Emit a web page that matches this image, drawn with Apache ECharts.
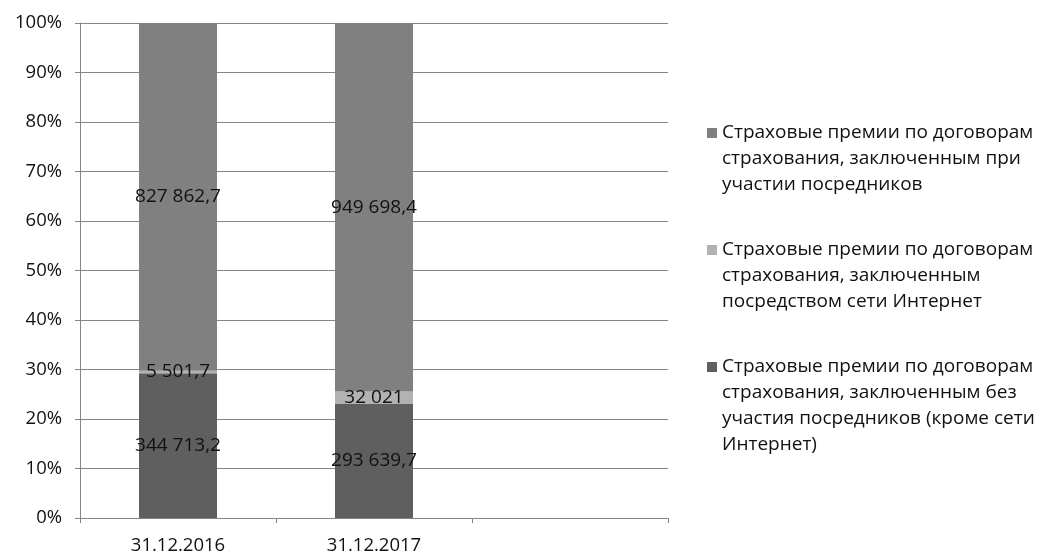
<!DOCTYPE html>
<html>
<head>
<meta charset="utf-8">
<script src="https://cdn.jsdelivr.net/npm/echarts@6/dist/echarts.min.js"></script>
<style>
html,body{margin:0;padding:0;background:#fff;}
#chart{width:1041px;height:556px;}
</style>
</head>
<body>
<div id="chart"></div>
<script>
// категории (третья колонка в оригинале пустая)
var categories = ['31.12.2016', '31.12.2017', ''];
// абсолютные значения, тыс. руб.
var withoutAgents = [344713.2, 293639.7, null];
var viaInternet = [5501.7, 32021, null];
var withAgents = [827862.7, 949698.4, null];
var seriesNames = [
	'Страховые премии по договорам страхования, заключенным без участия посредников (кроме сети Интернет)',
	'Страховые премии по договорам страхования, заключенным посредством сети Интернет',
	'Страховые премии по договорам страхования, заключенным при участии посредников'
];
// переносы строк в легенде как в оригинале
var legendLines = {};
legendLines[seriesNames[0]] = 'Страховые премии по договорам\nстрахования, заключенным без\nучастия посредников (кроме сети\nИнтернет)';
legendLines[seriesNames[1]] = 'Страховые премии по договорам\nстрахования, заключенным\nпосредством сети Интернет\n';
legendLines[seriesNames[2]] = 'Страховые премии по договорам\nстрахования, заключенным при\nучастии посредников\n';
var yTicks = [0, 10, 20, 30, 40, 50, 60, 70, 80, 90, 100];

var colors = ['#5f5f5f', '#b2b2b2', '#808080'];
var font = 'Open Sans';
var textColor = '#111';

//формат числа: 344 713,2
function fmt(v){
	var parts = String(v).split('.');
	var s = parts[0].replace(/\B(?=(\d{3})+(?!\d))/g, ' ');
	if(parts.length > 1){
		s += ',' + parts[1];
	}
	return s;
}

//доли в процентах
var raw = [withoutAgents, viaInternet, withAgents];
function shares(idx){
	var out = [];
	for(var i = 0; i < categories.length; i++){
		var v = raw[idx][i];
		if(v == null){
			out.push(null);
			continue;
		}
		var total = withoutAgents[i] + viaInternet[i] + withAgents[i];
		out.push({value: v / total * 100, raw: v});
	}
	return out;
}

function makeSeries(idx){
	return {
		name: seriesNames[idx],
		type: 'bar',
		stack: 'total',
		barWidth: 78,
		data: shares(idx),
		itemStyle: {color: colors[idx]},
		label: {
			show: true,
			position: 'inside',
			color: textColor,
			fontFamily: font,
			fontSize: 19,
			formatter: function(p){ return p.data ? fmt(p.data.raw) : ''; }
		}
	};
}

var myChart = echarts.init(document.getElementById('chart'));
var option = {
	animation: false,
	backgroundColor: '#fff',
	color: colors,
	grid: {left: 80, right: 373, top: 23, bottom: 38, containLabel: false},
	legend: {
		orient: 'vertical',
		left: 707,
		top: 120,
		padding: 0,
		itemGap: 13,
		itemWidth: 10,
		itemHeight: 88,
		selectedMode: false,
		icon: 'path://M0,0h10v10h-10z M0,88L0,88',
		data: [seriesNames[2], seriesNames[1], seriesNames[0]],
		formatter: function(name){ return legendLines[name]; },
		textStyle: {fontFamily: font, fontSize: 19, color: textColor, lineHeight: 26}
	},
	xAxis: {
		type: 'category',
		data: categories,
		axisLine: {lineStyle: {color: '#868686'}},
		axisTick: {show: true, length: 5, lineStyle: {color: '#868686'}},
		axisLabel: {fontFamily: font, fontSize: 18.5, color: textColor, margin: 18}
	},
	yAxis: {
		type: 'value',
		min: 0,
		max: 100,
		interval: 10,
		axisLine: {show: true, lineStyle: {color: '#868686'}},
		axisTick: {show: true, length: 5, lineStyle: {color: '#868686'}},
		splitLine: {lineStyle: {color: '#868686'}},
		axisLabel: {
			fontFamily: font, fontSize: 18.5, color: textColor, margin: 18,
			formatter: function(v){ return yTicks.indexOf(v) >= 0 ? v + '%' : ''; }
		}
	},
	series: [makeSeries(0), makeSeries(1), makeSeries(2)]
};
myChart.setOption(option);
</script>
</body>
</html>
